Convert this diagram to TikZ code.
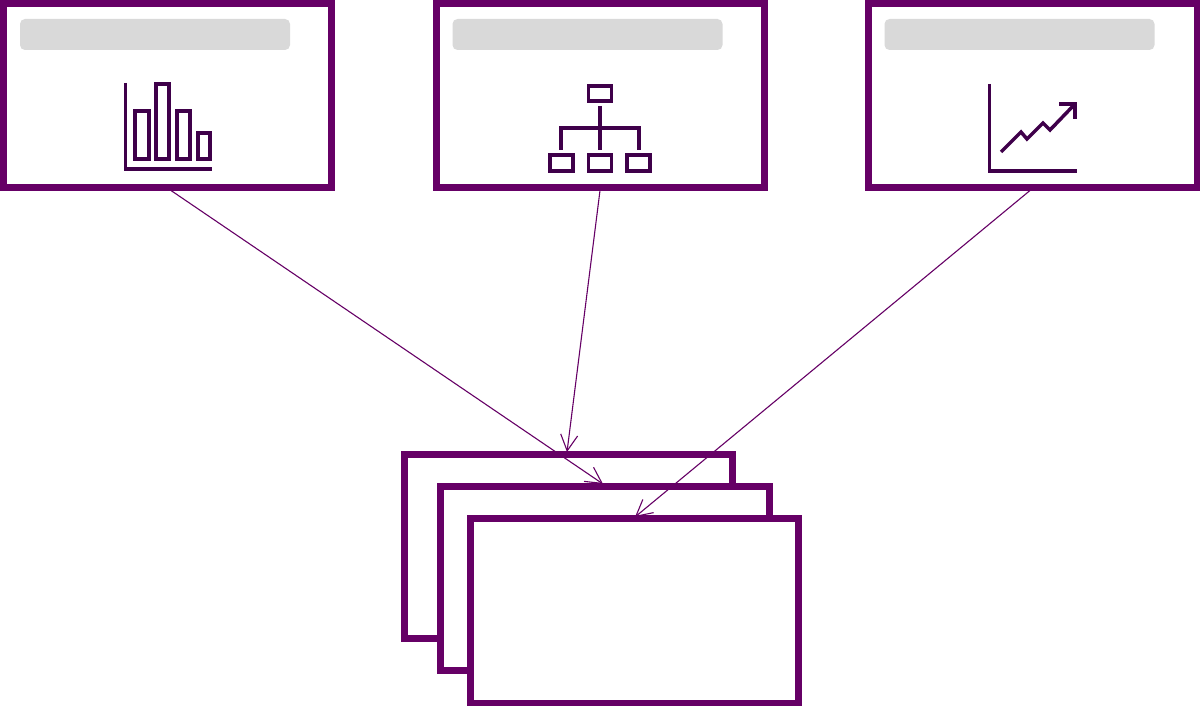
\documentclass[tikz,border=0pt]{standalone}
\usetikzlibrary{arrows.meta,calc}
\definecolor{framepurple}{HTML}{660066}
\definecolor{icondark}{HTML}{3F004A}
\definecolor{bargrey}{HTML}{D9D9D9}
\tikzset{
  panel/.style={draw=framepurple,line width=7pt,fill=white,inner sep=0pt,outer sep=0pt,minimum width=328pt,minimum height=184pt},
  titlebar/.style={fill=bargrey,rounded corners=5pt,inner sep=0pt,outer sep=0pt,minimum width=270pt,minimum height=31pt},
  link/.style={draw=framepurple,line width=1.1pt,-{Straight Barb[length=16pt,width=17pt,line width=1.1pt]}},
  edgeover/.style={draw=framepurple,line width=7pt,line cap=rect},
  icon/.style={draw=icondark,line width=3.5pt,line join=miter},
}
\begin{document}
\begin{tikzpicture}[x=1pt,y=-1pt]
\useasboundingbox (0,0) rectangle (1200,706);
\fill[white] (0,0) rectangle (1200,706);
% source panels
\node[panel] (t1) at (167,95.5) {};
\node[panel] (t2) at (600,95.5) {};
\node[panel,minimum width=329pt] (t3) at (1032.5,95.5) {};
\node[titlebar] (g1) at (155,34.5) {};
\node[titlebar] (g2) at (587.5,34.5) {};
\node[titlebar] (g3) at (1019.5,34.5) {};
% stacked panels
\node[panel] (a) at (568,546) {};
\node[panel,minimum width=329pt] (b) at (604.5,578) {};
\node[panel,minimum height=185pt] (c) at (634.5,610.5) {};
% connectors
\draw[link] ($(t1.south)+(4,3)$) -- ($(b.north)+(-1.5,-2)$);
\draw[link] ($(t2.south)+(0,3)$) -- ($(a.north)+(-1,-2)$);
\draw[link] ($(t3.south)+(-2.5,3)$) -- ($(c.north)+(0.5,-1)$);
% top edges lie over the connectors
\draw[edgeover] (a.north west) -- (a.north east);
\draw[edgeover] (b.north west) -- (b.north east);
\draw[edgeover] (c.north west) -- (c.north east);
% bar chart icon
\draw[icon] (125.5,83) -- (125.5,169) -- (212,169);
\draw[icon] (135,111) rectangle (149,159);
\draw[icon] (156,84) rectangle (169,159);
\draw[icon] (177,111) rectangle (190,159);
\draw[icon] (198,133) rectangle (210,159);
% org chart icon
\draw[icon] (588.5,86) rectangle (611.5,101);
\draw[icon] (600,106) -- (600,150);
\draw[icon] (561,150) -- (561,128) -- (639,128) -- (639,150);
\draw[icon] (550,155) rectangle (573,171);
\draw[icon] (588.5,155) rectangle (611.5,171);
\draw[icon] (627,155) rectangle (650,171);
% line chart icon
\draw[icon] (989.5,84) -- (989.5,171) -- (1077,171);
\draw[icon] (1001,152) -- (1021,132) -- (1027,139) -- (1043,123) -- (1050,130) -- (1074,105);
\draw[icon] (1059,104) -- (1075,104) -- (1075,119);
\end{tikzpicture}
\end{document}
